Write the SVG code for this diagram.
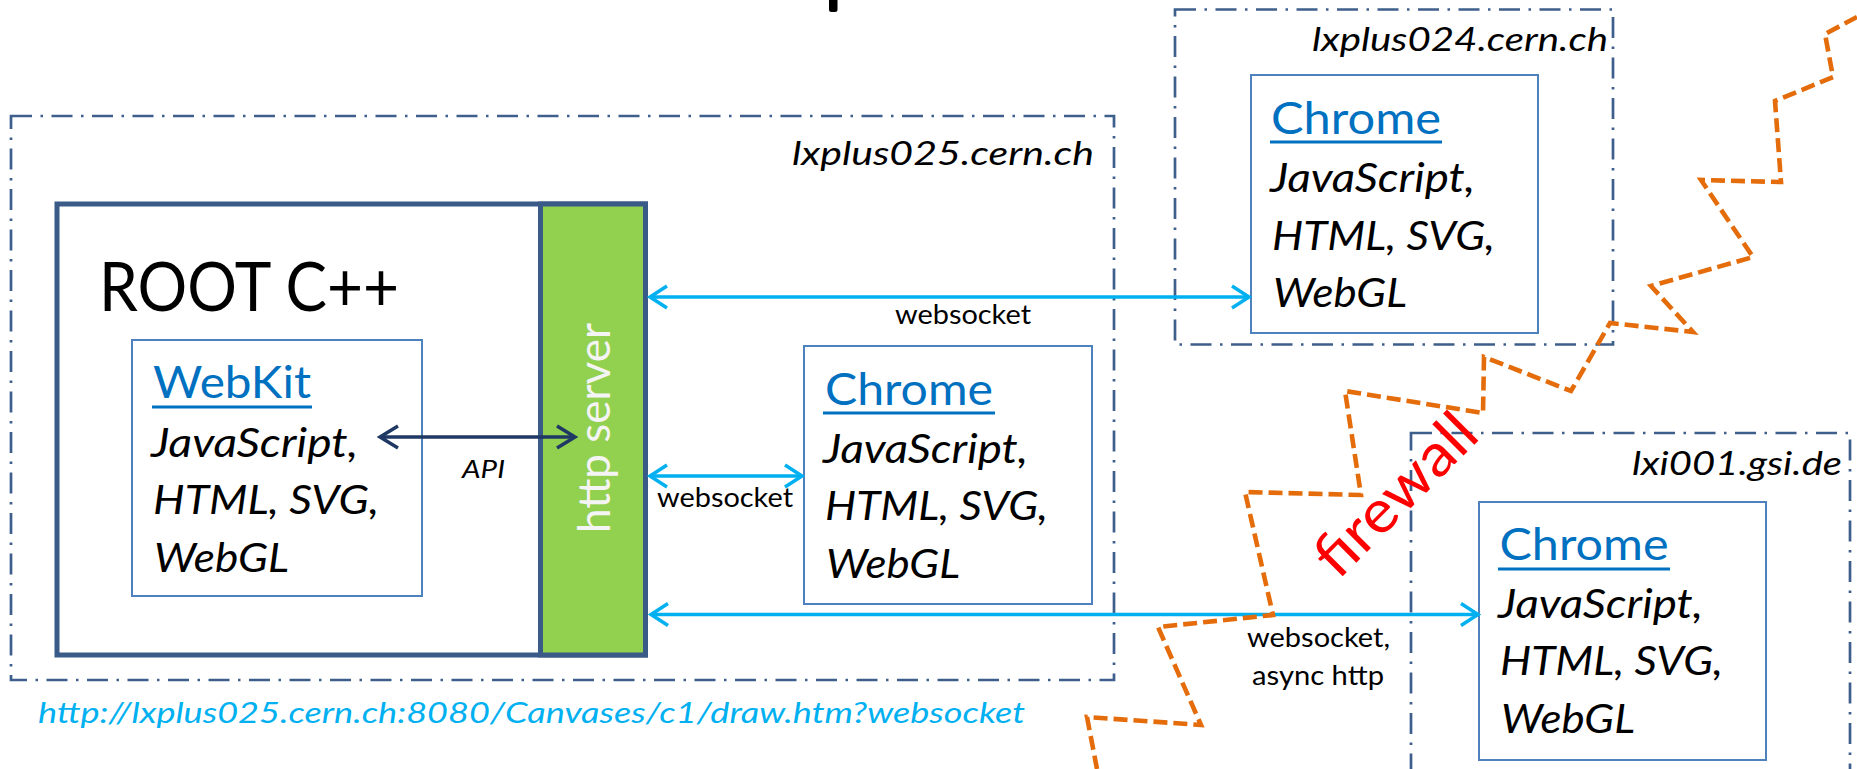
<svg xmlns="http://www.w3.org/2000/svg" width="1857" height="769" viewBox="0 0 1857 769">
<style>
text{font-family:Lato,"Liberation Sans",sans-serif}
.host{fill:none;stroke:#3E5F8C;stroke-width:2.7;stroke-dasharray:21 8.5 2.5 8.5}
.hostlbl{font-size:33px;font-style:italic;fill:#000}
.app{fill:#fff;stroke:#4F81BD;stroke-width:2}
.ttl{font-size:45px;fill:#0070C0}
.uln{stroke:#0070C0;stroke-width:3.2}
.ln{font-size:40px;font-style:italic;fill:#000}
.ws{fill:none;stroke:#00B0F0;stroke-width:3.5}
.wslbl{font-size:26px;fill:#000}
</style>
<defs>
<marker id="hb" viewBox="-22 -14 26 28" refX="0" refY="0" markerWidth="26" markerHeight="28" markerUnits="userSpaceOnUse" orient="auto-start-reverse">
<path d="M-17-11L0 0L-17 11" fill="none" stroke="#00B0F0" stroke-width="3.5"/>
</marker>
<marker id="hn" viewBox="-22 -14 26 28" refX="0" refY="0" markerWidth="26" markerHeight="28" markerUnits="userSpaceOnUse" orient="auto-start-reverse">
<path d="M-18-11L0 0L-18 11" fill="none" stroke="#1F3864" stroke-width="3.5"/>
</marker>
</defs>
<rect width="1857" height="769" fill="#fff"/>
<rect x="829" y="-6" width="8.5" height="18" rx="2.5" fill="#000"/>

<g id="host-lxplus025">
<rect class="host" x="11" y="116" width="1103" height="564"/>
<text class="hostlbl" x="792" y="165" textLength="302" lengthAdjust="spacingAndGlyphs">lxplus025.cern.ch</text>
</g>
<g id="host-lxplus024">
<rect class="host" x="1175" y="9.5" width="438" height="335"/>
<text class="hostlbl" x="1312" y="51" textLength="296" lengthAdjust="spacingAndGlyphs">lxplus024.cern.ch</text>
</g>
<g id="host-lxi001">
<rect class="host" x="1411" y="433" width="439" height="400"/>
<text class="hostlbl" x="1632" y="475" textLength="210" lengthAdjust="spacingAndGlyphs">lxi001.gsi.de</text>
</g>

<g id="node-root">
<rect x="57" y="204" width="588.5" height="451" fill="#fff" stroke="#3A5A88" stroke-width="5"/>
<text x="99" y="311" font-size="67" fill="#000" textLength="300" lengthAdjust="spacingAndGlyphs">ROOT C++</text>
</g>
<g id="node-http">
<rect x="540.5" y="204" width="105" height="451" fill="#92D050" stroke="#3A5A88" stroke-width="5"/>
<text transform="translate(610,533) rotate(-90)" font-size="44" fill="#F4F4F4" textLength="210" lengthAdjust="spacingAndGlyphs">http server</text>
</g>

<g id="node-webkit" transform="translate(132,340)">
<rect class="app" x="0" y="0" width="290" height="256"/>
<text class="ttl" x="21" y="58" textLength="158" lengthAdjust="spacingAndGlyphs">WebKit</text>
<line class="uln" x1="20" y1="67" x2="180" y2="67"/>
<text class="ln" x="19" y="116.5" textLength="207" lengthAdjust="spacingAndGlyphs">JavaScript,</text>
<text class="ln" x="21" y="174" textLength="226" lengthAdjust="spacingAndGlyphs">HTML, SVG,</text>
<text class="ln" x="22" y="231.5" textLength="135" lengthAdjust="spacingAndGlyphs">WebGL</text>
</g>

<g id="node-chrome-local" transform="translate(804,346)">
<rect class="app" x="0" y="0" width="288" height="258"/>
<text class="ttl" x="21" y="59" textLength="168" lengthAdjust="spacingAndGlyphs">Chrome</text>
<line class="uln" x1="19" y1="67" x2="191" y2="67"/>
<text class="ln" x="19" y="117" textLength="205" lengthAdjust="spacingAndGlyphs">JavaScript,</text>
<text class="ln" x="21" y="174" textLength="223" lengthAdjust="spacingAndGlyphs">HTML, SVG,</text>
<text class="ln" x="22" y="232" textLength="134" lengthAdjust="spacingAndGlyphs">WebGL</text>
</g>

<g id="node-chrome-lxplus024" transform="translate(1251,75)">
<rect class="app" x="0" y="0" width="287" height="258"/>
<text class="ttl" x="20" y="58.5" textLength="170" lengthAdjust="spacingAndGlyphs">Chrome</text>
<line class="uln" x1="19" y1="67" x2="191" y2="67"/>
<text class="ln" x="19" y="116.5" textLength="205" lengthAdjust="spacingAndGlyphs">JavaScript,</text>
<text class="ln" x="21" y="175" textLength="223" lengthAdjust="spacingAndGlyphs">HTML, SVG,</text>
<text class="ln" x="22" y="232" textLength="134" lengthAdjust="spacingAndGlyphs">WebGL</text>
</g>

<g id="node-chrome-lxi001" transform="translate(1479,502)">
<rect class="app" x="0" y="0" width="287" height="258"/>
<text class="ttl" x="20.5" y="58" textLength="169" lengthAdjust="spacingAndGlyphs">Chrome</text>
<line class="uln" x1="19" y1="67" x2="191" y2="67"/>
<text class="ln" x="19" y="116" textLength="205" lengthAdjust="spacingAndGlyphs">JavaScript,</text>
<text class="ln" x="21" y="173" textLength="223" lengthAdjust="spacingAndGlyphs">HTML, SVG,</text>
<text class="ln" x="22" y="231" textLength="134" lengthAdjust="spacingAndGlyphs">WebGL</text>
</g>

<g id="connectors">
<line x1="380" y1="437" x2="575" y2="437" stroke="#1F3864" stroke-width="3.5" marker-start="url(#hn)" marker-end="url(#hn)"/>
<text x="462" y="478" font-size="25" font-style="italic" fill="#000" textLength="43" lengthAdjust="spacingAndGlyphs">API</text>
<line class="ws" x1="650" y1="297" x2="1249" y2="297" marker-start="url(#hb)" marker-end="url(#hb)"/>
<text class="wslbl" x="895" y="324" textLength="136" lengthAdjust="spacingAndGlyphs">websocket</text>
<line class="ws" x1="650" y1="476" x2="802" y2="476" marker-start="url(#hb)" marker-end="url(#hb)"/>
<text class="wslbl" x="657" y="507" textLength="136" lengthAdjust="spacingAndGlyphs">websocket</text>
<line class="ws" x1="651" y1="614.5" x2="1478" y2="614.5" marker-start="url(#hb)" marker-end="url(#hb)"/>
<text class="wslbl" x="1247" y="646.5" textLength="143" lengthAdjust="spacingAndGlyphs">websocket,</text>
<text class="wslbl" x="1252" y="685" textLength="132" lengthAdjust="spacingAndGlyphs">async http</text>
</g>

<text id="url" x="38" y="723" font-size="28" font-style="italic" fill="#00B0F0" textLength="987" lengthAdjust="spacingAndGlyphs">http://lxplus025.cern.ch:8080/Canvases/c1/draw.htm?websocket</text>

<g id="firewall">
<path d="M1857 17L1825 34L1833 77L1775 101L1781 182L1701 180L1753 257L1651 286L1693 332L1610 323L1571 391L1484 357L1483 413L1345 391L1361 495L1245 492L1273 615L1158 627L1201 725L1087 717L1097 769" fill="none" stroke="#E46C0A" stroke-width="4.6" stroke-dasharray="14 6"/>
<text transform="translate(1338,581) rotate(-45)" font-size="60" fill="#FF0000" textLength="203" lengthAdjust="spacingAndGlyphs">firewall</text>
</g>
</svg>
